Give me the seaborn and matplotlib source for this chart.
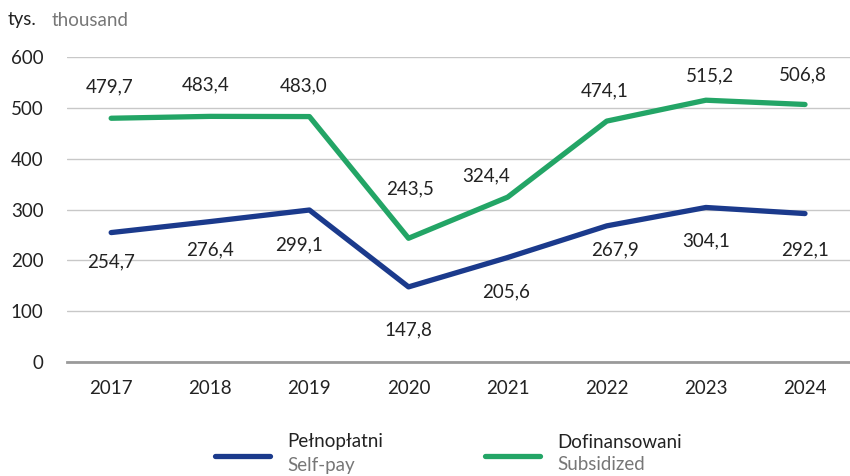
import matplotlib
matplotlib.use("Agg")
import matplotlib.pyplot as plt
from matplotlib.lines import Line2D
import seaborn as sns
import pandas as pd

years = [2017, 2018, 2019, 2020, 2021, 2022, 2023, 2024]
self_pay = [254.7, 276.4, 299.1, 147.8, 205.6, 267.9, 304.1, 292.1]
subsidized = [479.7, 483.4, 483.0, 243.5, 324.4, 474.1, 515.2, 506.8]
y_ticks = [0, 100, 200, 300, 400, 500, 600]

series_pl = ["Pełnopłatni", "Dofinansowani"]
series_en = ["Self-pay", "Subsidized"]
colors = ["#1b3a8c", "#23a566"]

# label offsets in pixels (hand tuned to match the reference placement)
dx_self = [0, 0, -10, 0, -2, 8, 0, 0]
dy_self = [-29, -28, -35, -43, -34, -24, -33, -36]
dx_sub = [-2, -5, -6, 2, -22, -2, 4, -2]
dy_sub = [31, 31, 31, 49, 21, 30, 24, 30]

FS = 13.5

df = pd.DataFrame({
    "year": years * 2,
    "value": self_pay + subsidized,
    "series": [series_pl[0]] * len(years) + [series_pl[1]] * len(years),
})

sns.set_style("white")
plt.rcParams["font.family"] = ["Lato", "DejaVu Sans"]

fig = plt.figure(figsize=(8.5, 4.76), dpi=100)
ax = fig.add_axes([0.079, 0.2395, 0.921, 0.6405])

sns.lineplot(data=df, x="year", y="value", hue="series", palette=colors,
             linewidth=3.8, legend=False, ax=ax, solid_capstyle="round")

def fmt(v):
    return f"{v:.1f}".replace(".", ",")

for x, y, dx, dy in zip(years, self_pay, dx_self, dy_self):
    ax.annotate(fmt(y), (x, y), xytext=(dx, dy), textcoords="offset pixels",
                ha="center", va="center", fontsize=FS, color="#222222")
for x, y, dx, dy in zip(years, subsidized, dx_sub, dy_sub):
    ax.annotate(fmt(y), (x, y), xytext=(dx, dy), textcoords="offset pixels",
                ha="center", va="center", fontsize=FS, color="#222222")

ax.set_xlim(2016.556, 2024.454)
ax.set_ylim(0, 600)
ax.set_yticks(y_ticks)
ax.set_xticks(years)
ax.set_xticklabels([str(y) for y in years])
ax.set_xlabel("")
ax.set_ylabel("")
ax.grid(axis="y", color="#c8c8c8", linewidth=1)
ax.set_axisbelow(True)
for s in ["top", "right", "left"]:
    ax.spines[s].set_visible(False)
ax.spines["bottom"].set_color("#9a9a9a")
ax.spines["bottom"].set_linewidth(2)
ax.tick_params(axis="y", length=0, pad=17, labelsize=FS, labelcolor="#222222")
ax.tick_params(axis="x", length=0, pad=13, labelsize=FS, labelcolor="#222222")

fig.text(8 / 850, 1 - 20 / 476, "tys.", fontsize=FS, color="#222222", va="center")
fig.text(52 / 850, 1 - 20 / 476, "thousand", fontsize=FS, color="#777777", va="center")

# custom two-language legend
for i, (lx, tx) in enumerate([(215, 287), (485, 557)]):
    fig.add_artist(Line2D([lx / 850, (lx + 55) / 850], [1 - 456 / 476] * 2,
                          color=colors[i], linewidth=3.8, solid_capstyle="round"))
    fig.text(tx / 850, 1 - 442 / 476, series_pl[i], fontsize=FS, color="#222222", va="center")
    fig.text(tx / 850, 1 - 465 / 476, series_en[i], fontsize=FS, color="#777777", va="center")

fig.savefig("out.png", dpi=100)
